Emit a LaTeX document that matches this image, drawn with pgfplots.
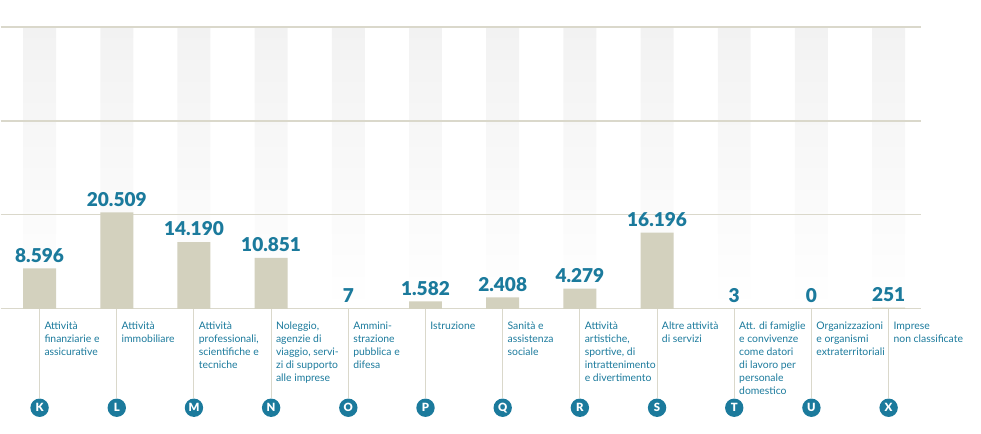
\documentclass[border=0pt]{standalone}
\usepackage{fontspec}
\setmainfont{Lato}
\newfontfamily\heavy{Lato Black}
\usepackage{pgfplots}
\pgfplotsset{compat=1.18}
\definecolor{teal}{HTML}{1B7A9C}
\definecolor{bar}{HTML}{D3D1BE}
\definecolor{gridc}{HTML}{DAD8CB}
\definecolor{stripe}{HTML}{F2F2F2}

\begin{document}
\begin{tikzpicture}
\path (0,0) rectangle (735.75pt,325.5pt);
\begin{axis}[
  set layers, clip=false,
  at={(0pt,93.75pt)}, anchor=south west,
  scale only axis, width=690.75pt, height=211.5pt,
  xmin=-0.505, xmax=11.42, ymin=0, ymax=60000,
  ybar, bar width=24.75pt, bar shift=0pt,
  axis line style={draw=none},
  ytick=\empty, scaled y ticks=false,
  extra y ticks={0,20000,40000,60000}, extra y tick labels={},
  extra y tick style={grid=major, major tick length=0pt, tick style={draw=none}},
  yticklabel style={overlay},
  grid style={gridc, line width=0.9pt},
  xtick={0,...,11}, xtick pos=left,
  xticklabels={K,L,M,N,O,P,Q,R,S,T,U,X},
  tick align=outside, major tick length=66.75pt,
  x tick style={gridc, line width=0.75pt},
  xticklabel style={circle, fill=teal, text=white, inner sep=0pt,
    minimum size=13.8pt, font=\heavy\fontsize{8.5}{8.5}\selectfont,
    anchor=center, yshift=-7.5pt},
  extra x ticks={0,...,11},
  extra x tick labels={
    {Attività\\finanziarie e\\assicurative},
    {Attività\\immobiliare},
    {Attività\\professionali,\\scientifiche e\\tecniche},
    {Noleggio,\\agenzie di\\viaggio, servi-\\zi di supporto\\alle imprese},
    {Ammini-\\strazione\\pubblica e\\difesa},
    {Istruzione},
    {Sanità e\\assistenza\\sociale},
    {Attività\\artistiche,\\sportive, di\\intrattenimento\\e divertimento},
    {Altre attività\\di servizi},
    {Att. di famiglie\\e convivenze\\come datori\\di lavoro per\\personale\\domestico},
    {Organizzazioni\\e organismi\\extraterritoriali},
    {Imprese\\non classificate}},
  extra x tick style={major tick length=0pt,
    xticklabel style={shape=rectangle, fill=none, text=teal, minimum size=0pt,
      font=\rmfamily\fontsize{7.8}{9.75}\selectfont, align=left, anchor=north west,
      xshift=3.5pt, yshift=-2pt}},
  /pgf/number format/.cd, 1000 sep={.}, assume math mode=true,
]
\addplot[on layer=axis background, draw=none, top color=stripe, bottom color=white]
  coordinates {(0,60000) (1,60000) (2,60000) (3,60000) (4,60000) (5,60000)
               (6,60000) (7,60000) (8,60000) (9,60000) (10,60000) (11,60000)};
\addplot[fill=bar, draw=none, nodes near coords,
  nodes near coords style={text=teal, font=\heavy\fontsize{14.3}{14.3}\selectfont, yshift=1pt}]
  coordinates {(0,8596) (1,20509) (2,14190) (3,10851) (4,7) (5,1582)
               (6,2408) (7,4279) (8,16196) (9,3) (10,0) (11,251)};
\end{axis}
\end{tikzpicture}
\end{document}
